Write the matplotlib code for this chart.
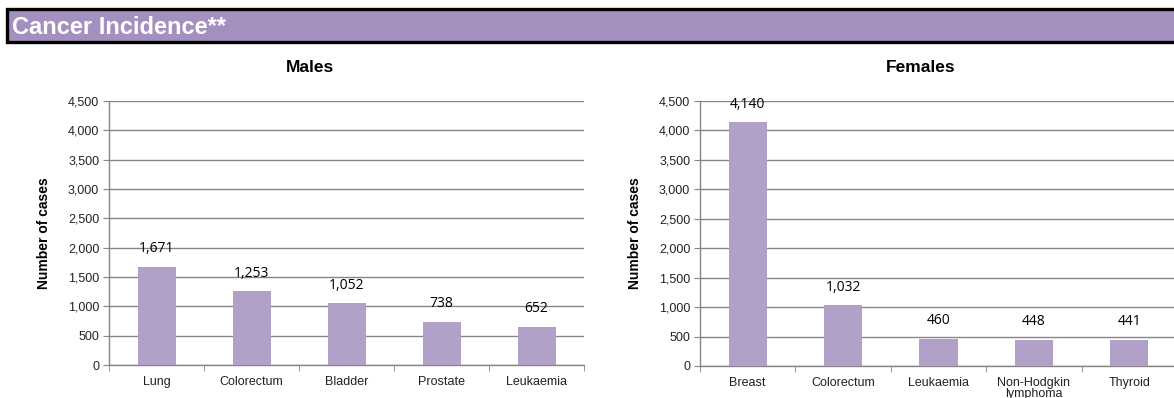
import matplotlib
matplotlib.use("Agg")
import matplotlib.pyplot as plt
from matplotlib.patches import Rectangle
import numpy as np

male_categories = ["Lung", "Colorectum", "Bladder", "Prostate", "Leukaemia"]
male_values = [1671, 1253, 1052, 738, 652]
female_categories = ["Breast", "Colorectum", "Leukaemia", "Non-Hodgkin\nlymphoma", "Thyroid"]
female_values = [4140, 1032, 460, 448, 441]
y_ticks = [0, 500, 1000, 1500, 2000, 2500, 3000, 3500, 4000, 4500]

BAR = "#B1A1C8"
GRID = "#868686"
plt.rcParams["font.family"] = ["Liberation Sans", "DejaVu Sans"]

fig = plt.figure(figsize=(11.74, 3.98), dpi=100)

# header banner
fig.patches.append(Rectangle((7/1174, (398-42)/398), 1.02, 33/398, transform=fig.transFigure,
                             facecolor="#A390BE", edgecolor="black", linewidth=2.4, zorder=0))
fig.text(12/1174, 1-27/398, "Cancer Incidence**", color="white", fontsize=17,
         fontweight="bold", va="center", ha="left")


def draw(ax, cats, vals, title, title_x):
    x = np.arange(len(cats))
    ax.bar(x, vals, width=0.4, color=BAR, zorder=3)
    ax.set_xlim(-0.5, len(cats) - 0.5)
    ax.set_ylim(0, 4500)
    ax.set_yticks(y_ticks)
    ax.set_yticklabels([f"{v:,}" for v in y_ticks], fontsize=9, color="#222222")
    ax.yaxis.grid(True, color=GRID, linewidth=1.0, zorder=0)
    ax.set_axisbelow(True)
    ax.set_xticks(x)
    ax.set_xticklabels(cats, fontsize=9, color="#222222", linespacing=0.9)
    ax.set_xticks(np.arange(-0.5, len(cats)), minor=True)
    ax.tick_params(axis="x", which="major", length=0, pad=8)
    ax.tick_params(axis="x", which="minor", length=4, color=GRID, direction="out")
    ax.tick_params(axis="y", length=4, color=GRID, pad=3)
    for s in ["top", "right"]:
        ax.spines[s].set_visible(False)
    for s in ["left", "bottom"]:
        ax.spines[s].set_color(GRID)
        ax.spines[s].set_linewidth(1.0)
    ax.set_ylabel("Number of cases", fontsize=10, fontweight="bold", labelpad=12)
    for xi, v in zip(x, vals):
        ax.annotate(f"{v:,}", (xi, v), xytext=(0, 13), textcoords="offset points",
                    ha="center", va="center", fontsize=10, family=["Open Sans", "DejaVu Sans"],
                    color="black")
    fig.text(title_x, 1 - 67/398, title, fontsize=12.5, fontweight="bold", ha="center", va="center")


ax1 = fig.add_axes([109/1174, 33/398, 475/1174, 264/398])
draw(ax1, male_categories, male_values, "Males", 310/1174)
ax2 = fig.add_axes([700/1174, 32/398, 477/1174, 265/398])
draw(ax2, female_categories, female_values, "Females", 921/1174)

fig.savefig("out.png", dpi=100)
